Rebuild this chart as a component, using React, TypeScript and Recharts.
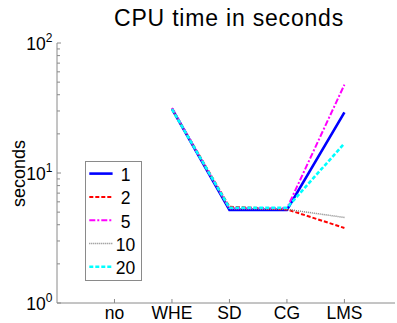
import React from 'react';
import { LineChart, Line, XAxis, YAxis, Legend } from 'recharts';

const categories = ['no', 'WHE', 'SD', 'CG', 'LMS'];
const seriesNames = ['1', '2', '5', '10', '20'];
const values1 = [null, 31.2, 5.2, 5.2, 29.3];
const values2 = [null, 31.2, 5.5, 5.25, 3.78];
const values5 = [null, 31.6, 5.35, 5.35, 47.8];
const values10 = [null, 31.2, 5.3, 5.25, 4.55];
const values20 = [null, 31.0, 5.4, 5.4, 16.9];
const yTicks = [1, 2, 3, 4, 5, 6, 7, 8, 9, 10, 20, 30, 40, 50, 60, 70, 80, 90, 100];
const yMajorTicks = [1, 10, 100];
const title = 'CPU time in seconds';
const yLabel = 'seconds';

const FONT = '"Liberation Sans", Arial, Helvetica, sans-serif';
const AXIS_COLOR = '#8a8a8a';

const seriesValues = [values1, values2, values5, values10, values20];
const seriesStyles = [
  { color: '#0000ff', width: 2.6, dash: undefined as string | undefined },
  { color: '#ff0000', width: 2, dash: '4 2' },
  { color: '#ff00ff', width: 2, dash: '6 2 2 2' },
  { color: '#808080', width: 1.5, dash: '1 1' },
  { color: '#00ffff', width: 2.6, dash: '4 2' },
];

const data = categories.map((c, i) => {
  const row: Record<string, number | string | null> = { x: i + 1, cat: c };
  seriesNames.forEach((n, k) => {
    row['s' + n] = seriesValues[k][i];
  });
  return row;
});

const YTick = (props: any) => {
  const { x, y, payload } = props;
  const v = payload.value;
  const isMajor = yMajorTicks.includes(v);
  const exp = Math.round(Math.log10(v));
  return (
    <g>
      <line x1={x} x2={x + (isMajor ? 4 : 3)} y1={y} y2={y} stroke={AXIS_COLOR} strokeWidth={1} />
      {isMajor && (
        <text x={x - 4.5} y={y + 6.5} textAnchor="end" fontSize={17.5} fontFamily={FONT} fill="#000">
          10
          <tspan dy={-8} fontSize={12}>{exp}</tspan>
        </text>
      )}
    </g>
  );
};

const XTick = (props: any) => {
  const { x, y, payload } = props;
  const label = categories[Math.round(payload.value) - 1];
  return (
    <g>
      <line x1={x} x2={x} y1={y} y2={y - 4} stroke={AXIS_COLOR} strokeWidth={1} />
      <text x={x} y={y + 16} textAnchor="middle" fontSize={17.5} fontFamily={FONT} fill="#000">
        {label}
      </text>
    </g>
  );
};

const renderLegend = () => (
  <svg width={58} height={121} style={{ display: 'block' }}>
    <rect x={0.5} y={0.5} width={56} height={119} fill="#ffffff" stroke={AXIS_COLOR} strokeWidth={1} />
    {seriesNames.map((n, i) => {
      const cy = 12.6 + i * 23.3;
      const s = seriesStyles[i];
      return (
        <g key={n}>
          <line x1={4.3} x2={27.6} y1={cy} y2={cy} stroke={s.color} strokeWidth={s.width} strokeDasharray={s.dash} />
          <text x={40.5} y={cy + 7.3} textAnchor="middle" fontSize={17.5} fontFamily={FONT} fill="#000">
            {n}
          </text>
        </g>
      );
    })}
  </svg>
);

export default function App() {
  return (
    <div style={{ position: 'absolute', left: 0, top: 0, width: 397, height: 323, background: '#fff', fontFamily: FONT }}>
      <LineChart width={397} height={323} data={data} margin={{ top: 43, right: 2, bottom: 0, left: 0 }}>
        <XAxis
          dataKey="x"
          type="number"
          domain={[0, 5.88]}
          ticks={[1, 2, 3, 4, 5]}
          interval={0}
          height={20}
          tickSize={0}
          tickMargin={0}
          tickLine={false}
          tick={<XTick />}
          axisLine={{ stroke: AXIS_COLOR, strokeWidth: 1 }}
          allowDataOverflow
        />
        <YAxis
          type="number"
          scale="log"
          domain={[1, 100]}
          ticks={yTicks}
          interval={0}
          width={57}
          tickSize={0}
          tickMargin={0}
          tickLine={false}
          tick={<YTick />}
          axisLine={{ stroke: AXIS_COLOR, strokeWidth: 1 }}
          allowDataOverflow
        />
        <Legend
          layout="vertical"
          align="center"
          verticalAlign="middle"
          content={renderLegend}
          wrapperStyle={{ left: 85, top: 161, width: 58, height: 121 }}
        />
        {seriesNames.map((n, i) => (
          <Line
            key={n}
            name={n}
            dataKey={'s' + n}
            stroke={seriesStyles[i].color}
            strokeWidth={seriesStyles[i].width}
            strokeDasharray={seriesStyles[i].dash}
            dot={false}
            activeDot={false}
            isAnimationActive={false}
            type="linear"
          />
        ))}
      </LineChart>
      <svg width={397} height={323} style={{ position: 'absolute', left: 0, top: 0, pointerEvents: 'none' }}>
        <text x={229} y={26} textAnchor="middle" fontSize={23} letterSpacing={0.8} fontFamily={FONT} fill="#000">
          {title}
        </text>
        <text transform="translate(25,173.5) rotate(-90)" textAnchor="middle" fontSize={18} fontFamily={FONT} fill="#000">
          {yLabel}
        </text>
      </svg>
    </div>
  );
}
